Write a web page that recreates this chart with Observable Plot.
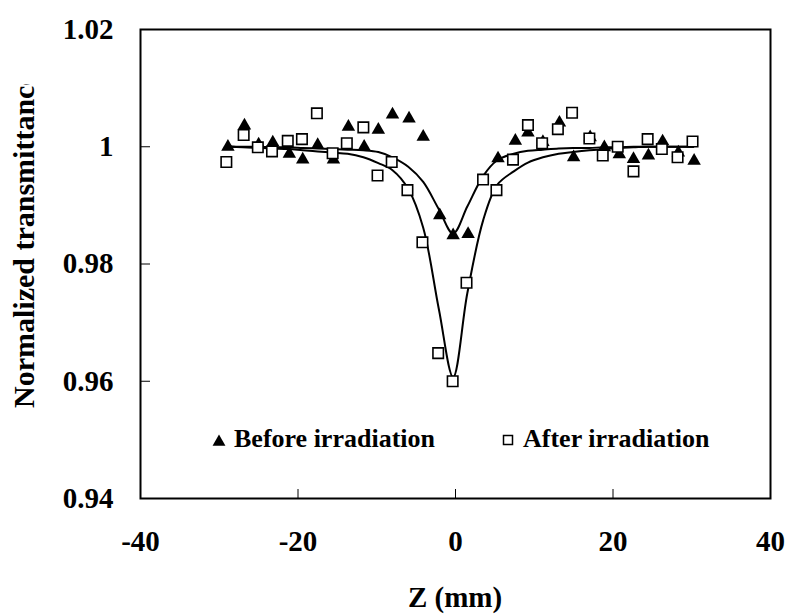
<!DOCTYPE html>
<html><head><meta charset="utf-8">
<script src="https://cdn.jsdelivr.net/npm/d3@7"></script>
<script src="https://cdn.jsdelivr.net/npm/@observablehq/plot@0.6"></script>
<style>body{margin:0;background:#fff}#chart{width:785px;height:615px}</style>
</head><body><div id="chart"></div>
<script>
// Data
const zBefore = [-28.9, -26.8, -25.0, -23.2, -21.1, -19.4, -17.5, -15.5, -13.6, -11.6, -9.8, -8.0, -5.9, -4.1, -2.0, -0.3, 1.6, 5.4, 7.6, 9.2, 11.1, 13.2, 15.0, 17.1, 18.9, 20.8, 22.6, 24.5, 26.3, 28.3, 30.3];
const tBefore = [1.0000, 1.0036, 1.0004, 1.0007, 0.9988, 0.9978, 1.0003, 0.9978, 1.0034, 1.0000, 1.0029, 1.0055, 1.0048, 1.0017, 0.9883, 0.9849, 0.9851, 0.9980, 1.0010, 1.0024, 1.0008, 1.0041, 0.9982, 1.0016, 0.9999, 0.9987, 0.9979, 0.9985, 1.0009, 0.9990, 0.9976];
const zAfter = [-29.1, -26.9, -25.1, -23.3, -21.3, -19.5, -17.6, -15.6, -13.8, -11.7, -9.9, -8.1, -6.1, -4.2, -2.2, -0.36, 1.4, 3.5, 5.2, 7.3, 9.2, 11.0, 13.0, 14.8, 17.0, 18.7, 20.6, 22.6, 24.4, 26.2, 28.2, 30.1];
const tAfter = [0.9974, 1.0020, 0.9999, 0.9992, 1.0010, 1.0013, 1.0057, 0.9989, 1.0006, 1.0033, 0.9951, 0.9974, 0.9926, 0.9837, 0.9648, 0.9600, 0.9768, 0.9944, 0.9926, 0.9978, 1.0037, 1.0006, 1.0030, 1.0058, 1.0014, 0.9985, 1.0000, 0.9958, 1.0013, 0.9996, 0.9982, 1.0009];
const zFit = [-29.0, -27.0, -25.1, -23.2, -21.2, -19.4, -17.5, -15.6, -13.7, -11.7, -9.8, -8.0, -6.0, -4.1, -2.1, -0.3, 1.5, 3.5, 5.3, 7.4, 9.2, 11.1, 13.1, 14.9, 17.0, 18.8, 20.7, 22.6, 24.5, 26.3, 28.3, 30.2];
const fitBefore = [1.0001, 1.0000, 1.0000, 0.9999, 0.9999, 0.9998, 0.9997, 0.9996, 0.9995, 0.9994, 0.9991, 0.9982, 0.9966, 0.9940, 0.9893, 0.9852, 0.9898, 0.9950, 0.9977, 0.9988, 0.9993, 0.9995, 0.9997, 0.9998, 0.9998, 0.9999, 0.9999, 1.0000, 1.0000, 1.0000, 1.0000, 1.0000];
const fitAfter = [1.0000, 0.9999, 0.9998, 0.9997, 0.9996, 0.9994, 0.9992, 0.9990, 0.9988, 0.9982, 0.9972, 0.9960, 0.9928, 0.9862, 0.9722, 0.9607, 0.9750, 0.9874, 0.9935, 0.9958, 0.9973, 0.9982, 0.9988, 0.9991, 0.9994, 0.9996, 0.9998, 0.9999, 1.0000, 1.0000, 1.0000, 1.0000];
const xTicks = [-40, -20, 0, 20, 40];
const xTickLabels = ["-40", "-20", "0", "20", "40"];
const yTicks = [0.94, 0.96, 0.98, 1, 1.02];
const yTickLabels = ["0.94", "0.96", "0.98", "1", "1.02"];
const legendLabels = ["Before irradiation", "After irradiation"];
const xTitle = "Z (mm)";
const yTitle = "Normalized transmittance";

const before = zBefore.map((z, i) => ({z, t: tBefore[i]}));
const after = zAfter.map((z, i) => ({z, t: tAfter[i]}));
const fitB = zFit.map((z, i) => ({z, t: fitBefore[i]}));
const fitA = zFit.map((z, i) => ({z, t: fitAfter[i]}));

const font = "'Liberation Serif', 'Times New Roman', serif";
const plot = Plot.plot({
  width: 785, height: 615,
  marginLeft: 140, marginRight: 15, marginTop: 29, marginBottom: 117,
  style: {fontFamily: font, fontWeight: "bold", fontSize: "29px", color: "#000", background: "#fff"},
  x: {domain: [-40, 40]},
  y: {domain: [0.94, 1.02]},
  marks: [
    Plot.axisX({ticks: xTicks, tickSize: 0, tickPadding: 32, tickFormat: d => xTickLabels[xTicks.indexOf(d)], label: null}),
    Plot.axisY({ticks: yTicks, tickSize: 0, tickPadding: 27, tickFormat: d => yTickLabels[yTicks.indexOf(d)], label: null}),
    Plot.tickY(yTicks, {y: d => d, insetRight: 620, stroke: "#000", strokeWidth: 1}),
    Plot.tickX(xTicks, {x: d => d, insetTop: 460, stroke: "#000", strokeWidth: 1}),
    Plot.line(fitB, {x: "z", y: "t", curve: "catmull-rom", stroke: "#000", strokeWidth: 2}),
    Plot.line(fitA, {x: "z", y: "t", curve: "catmull-rom", stroke: "#000", strokeWidth: 2}),
    Plot.dot(before, {x: "z", y: "t", symbol: "triangle", r: 5, fill: "#000", stroke: "none"}),
    Plot.dot(after, {x: "z", y: "t", symbol: "square", r: 5.9, fill: "#fff", stroke: "#000", strokeWidth: 1.6}),
    Plot.frame({stroke: "#000", strokeWidth: 2})
  ]
});
document.getElementById("chart").appendChild(plot);

const svg = d3.select(plot);
svg.append("defs").append("clipPath").attr("id", "yclip")
  .append("rect").attr("x", 0).attr("y", 84).attr("width", 140).attr("height", 531);
svg.append("g").attr("clip-path", "url(#yclip)")
  .append("text")
  .attr("transform", "translate(34,408) rotate(-90)")
  .attr("text-anchor", "start")
  .attr("font-family", font).attr("font-weight", "bold").attr("font-size", 30)
  .attr("fill", "#000")
  .text(yTitle);
svg.append("text")
  .attr("x", 455).attr("y", 607).attr("text-anchor", "middle")
  .attr("font-family", font).attr("font-weight", "bold").attr("font-size", 29)
  .attr("fill", "#000")
  .text(xTitle);

const lg = svg.append("g").attr("font-family", font).attr("font-weight", "bold").attr("font-size", 26).attr("fill", "#000").attr("text-anchor", "start");
lg.append("path").attr("transform", "translate(219,442)").attr("d", d3.symbol(d3.symbolTriangle, 72)()).attr("fill", "#000");
lg.append("text").attr("x", 234).attr("y", 447).attr("text-anchor", "start").text(legendLabels[0]);
lg.append("path").attr("transform", "translate(508,440)").attr("d", d3.symbol(d3.symbolSquare, 81)()).attr("fill", "#fff").attr("stroke", "#000").attr("stroke-width", 1.5);
lg.append("text").attr("x", 523).attr("y", 447).attr("text-anchor", "start").text(legendLabels[1]);
</script>
</body></html>
